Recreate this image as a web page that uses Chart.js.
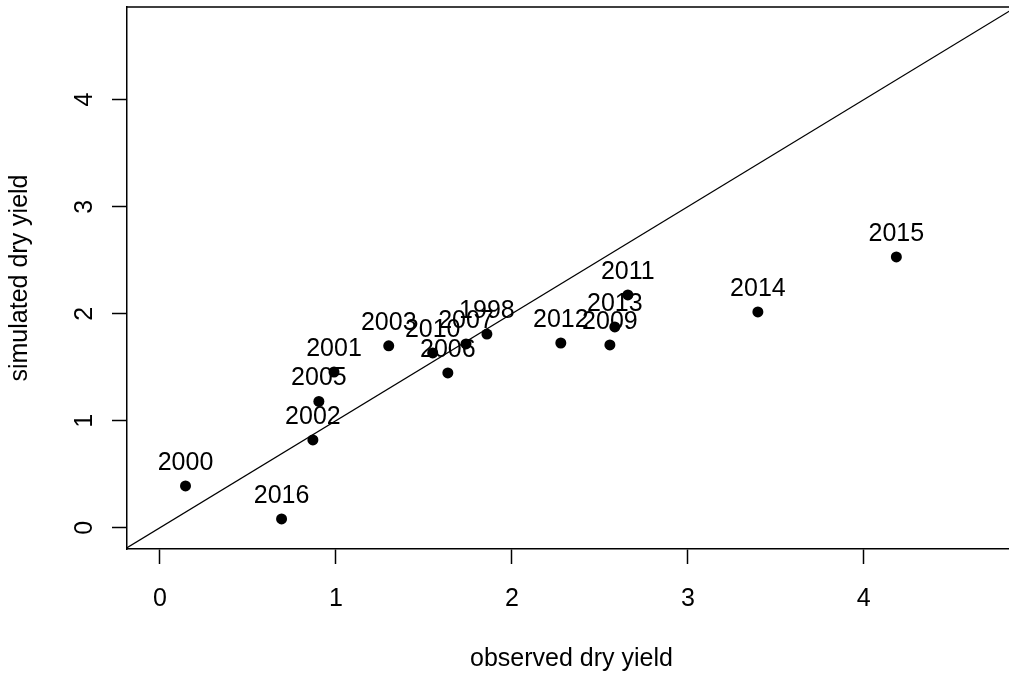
<!DOCTYPE html>
<html>
<head>
<meta charset="utf-8">
<script src="https://cdn.jsdelivr.net/npm/chart.js@4/dist/chart.umd.min.js"></script>
<style>
html,body{margin:0;padding:0;background:#fff;overflow:hidden;width:1009px;height:675px;}
canvas{display:block;}
</style>
</head>
<body>
<canvas id="c" width="1025" height="675"></canvas>
<script>
// ---- data ----
const years = ['1998','2000','2001','2002','2003','2005','2006','2007','2009','2010','2011','2012','2013','2014','2015','2016'];
const observed  = [1.858,0.145,0.989,0.869,1.30,0.903,1.636,1.739,2.557,1.55,2.659,2.278,2.585,3.398,4.185,0.691];
const simulated = [1.81,0.39,1.455,0.82,1.70,1.18,1.446,1.717,1.708,1.633,2.175,1.726,1.876,2.016,2.53,0.082];
const xTicks = [0,1,2,3,4];
const yTicks = [0,1,2,3,4];
const xLimits = [-0.1875, 4.865];
const yLimits = [-0.199, 4.866];
const oneToOne = [-0.3, 5.2];
const xTitle = 'observed dry yield';
const yTitle = 'simulated dry yield';

const FONT = '25px "Liberation Sans", Arial, sans-serif';

const points = observed.map((v,i)=>({x:v, y:simulated[i]}));
const linePts = oneToOne.map(v=>({x:v,y:v}));

const drawPlugin = {
  id:'rbase',
  afterDraw(chart){
    const ctx = chart.ctx, a = chart.chartArea;
    const xs = chart.scales.x, ys = chart.scales.y;
    ctx.save();
    ctx.strokeStyle = '#000'; ctx.lineWidth = 1.5;
    ctx.beginPath();
    ctx.moveTo(a.left, a.top); ctx.lineTo(a.right, a.top); ctx.lineTo(a.right, a.bottom);
    ctx.stroke();
    ctx.fillStyle = '#000';
    ctx.font = FONT;
    const meta = chart.getDatasetMeta(1);
    ctx.textAlign = 'center'; ctx.textBaseline = 'alphabetic';
    meta.data.forEach((el,i)=>{ ctx.fillText(years[i], el.x, el.y - 16); });
    xTicks.forEach(v=>{ ctx.fillText(String(v), xs.getPixelForValue(v), 606); });
    ctx.fillText(xTitle, (a.left + a.right)/2, 666);
    yTicks.forEach(v=>{
      ctx.save();
      ctx.translate(92, ys.getPixelForValue(v));
      ctx.rotate(-Math.PI/2);
      ctx.fillText(String(v), 0, 0);
      ctx.restore();
    });
    ctx.save();
    ctx.translate(27, (a.top + a.bottom)/2);
    ctx.rotate(-Math.PI/2);
    ctx.fillText(yTitle, 0, 0);
    ctx.restore();
    ctx.restore();
  }
};

new Chart(document.getElementById('c'), {
  type:'scatter',
  data:{
    datasets:[
      { type:'line', data:linePts, borderColor:'#000', borderWidth:1.2, pointRadius:0, fill:false, tension:0 },
      { data:points, backgroundColor:'#000', borderWidth:0, pointRadius:5.5, pointHoverRadius:5.5 }
    ]
  },
  options:{
    responsive:false,
    animation:false,
    events:[],
    layout:{ padding:{ top:7, right:9, left:0, bottom:0 } },
    plugins:{ legend:{display:false}, tooltip:{enabled:false} },
    scales:{
      x:{
        type:'linear', min:xLimits[0], max:xLimits[1],
        afterBuildTicks(s){ s.ticks = xTicks.map(v=>({value:v})); },
        afterFit(s){ s.height = 126; },
        ticks:{ color:'rgba(0,0,0,0)', font:{size:1}, padding:0, maxRotation:0 },
        grid:{ drawOnChartArea:false, drawTicks:true, tickLength:15, tickColor:'#000', tickWidth:1.5 },
        border:{ display:true, color:'#000', width:1.5 }
      },
      y:{
        type:'linear', min:yLimits[0], max:yLimits[1],
        afterBuildTicks(s){ s.ticks = yTicks.map(v=>({value:v})); },
        afterFit(s){ s.width = 127; },
        ticks:{ color:'rgba(0,0,0,0)', font:{size:1}, padding:0 },
        grid:{ drawOnChartArea:false, drawTicks:true, tickLength:15, tickColor:'#000', tickWidth:1.5 },
        border:{ display:true, color:'#000', width:1.5 }
      }
    }
  },
  plugins:[drawPlugin]
});
</script>
</body>
</html>
